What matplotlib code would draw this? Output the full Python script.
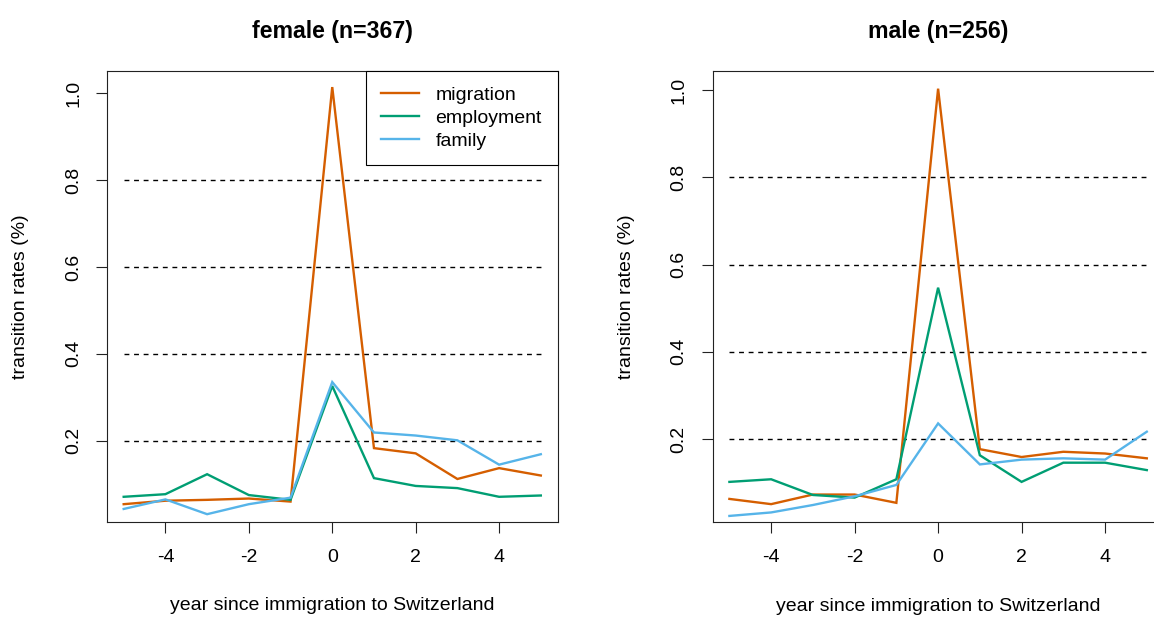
import matplotlib
matplotlib.use("Agg")
import matplotlib.pyplot as plt

plt.rcParams['font.family'] = ['Liberation Sans', 'DejaVu Sans']
plt.rcParams['axes.unicode_minus'] = False

years = [-5, -4, -3, -2, -1, 0, 1, 2, 3, 4, 5]
series_names = ["migration", "employment", "family"]
colors = ["#D55E00", "#009E73", "#56B4E9"]

female_migration = [0.054, 0.062, 0.064, 0.067, 0.060, 1.014, 0.183, 0.171, 0.112, 0.137, 0.120]
female_employment = [0.071, 0.077, 0.123, 0.075, 0.064, 0.326, 0.114, 0.096, 0.091, 0.071, 0.074]
female_family = [0.043, 0.065, 0.031, 0.054, 0.069, 0.335, 0.219, 0.212, 0.201, 0.145, 0.169]

male_migration = [0.063, 0.051, 0.073, 0.073, 0.054, 1.003, 0.177, 0.159, 0.171, 0.167, 0.156]
male_employment = [0.102, 0.108, 0.072, 0.066, 0.108, 0.547, 0.163, 0.102, 0.146, 0.146, 0.129]
male_family = [0.024, 0.032, 0.049, 0.069, 0.095, 0.236, 0.142, 0.153, 0.156, 0.153, 0.217]

titles = ["female (n=367)", "male (n=256)"]
x_ticks = [-4, -2, 0, 2, 4]
x_ticklabels = ["-4", "-2", "0", "2", "4"]
y_ticks = [0.2, 0.4, 0.6, 0.8, 1.0]
y_ticklabels = ["0.2", "0.4", "0.6", "0.8", "1.0"]
ref_levels = [0.2, 0.4, 0.6, 0.8]
xlabel = "year since immigration to Switzerland"
ylabel = "transition rates (%)"

W, H = 1154, 618
fig = plt.figure(figsize=(W / 100, H / 100), dpi=100)

panels = [
    dict(rect=[107 / W, (H - 522) / H, 450.5 / W, 451 / H], ylim=(0.013, 1.051),
         data=[female_migration, female_employment, female_family], legend=True),
    dict(rect=[712.7 / W, (H - 522.3) / H, 450.8 / W, 451.3 / H], ylim=(0.0094, 1.0435),
         data=[male_migration, male_employment, male_family], legend=False),
]

for p, title in zip(panels, titles):
    ax = fig.add_axes(p["rect"])
    ax.hlines(ref_levels, years[0], years[-1], colors="black", linewidth=1.0,
              linestyles=[(0, (3.5, 3.4))])
    for vals, name, c in zip(p["data"], series_names, colors):
        ax.plot(years, vals, color=c, linewidth=1.7, label=name, solid_joinstyle="miter")
    ax.set_xlim(-5.4, 5.4)
    ax.set_ylim(*p["ylim"])
    ax.set_xticks(x_ticks)
    ax.set_xticklabels(x_ticklabels, fontsize=14)
    ax.set_yticks(y_ticks)
    ax.set_yticklabels(y_ticklabels, fontsize=14, rotation=90, va="center")
    ax.tick_params(axis="x", direction="out", length=8, width=0.8, pad=11.5, colors="#222222",
                   labelcolor="black")
    ax.tick_params(axis="y", direction="out", length=8, width=0.8, pad=10, colors="#222222",
                   labelcolor="black")
    for s in ax.spines.values():
        s.set_linewidth(0.8)
        s.set_color("#222222")
    ax.set_title(title, fontsize=16.7, fontweight="bold", pad=24)
    ax.set_xlabel(xlabel, fontsize=14, va="center")
    ax.xaxis.set_label_coords(0.5, (522 - 606) / 451)
    ax.set_ylabel(ylabel, fontsize=14, va="center")
    ax.yaxis.set_label_coords((21 - 107) / 450.5, 0.5)
    if p["legend"]:
        leg = ax.legend(loc="upper right", bbox_to_anchor=(1, 1), borderaxespad=0,
                        fontsize=14, frameon=True, fancybox=False, framealpha=1,
                        edgecolor="black", borderpad=0.8, handlelength=1.96,
                        handletextpad=0.83, labelspacing=0.27)
        leg.get_frame().set_linewidth(0.8)

fig.savefig("out.png", dpi=100)
